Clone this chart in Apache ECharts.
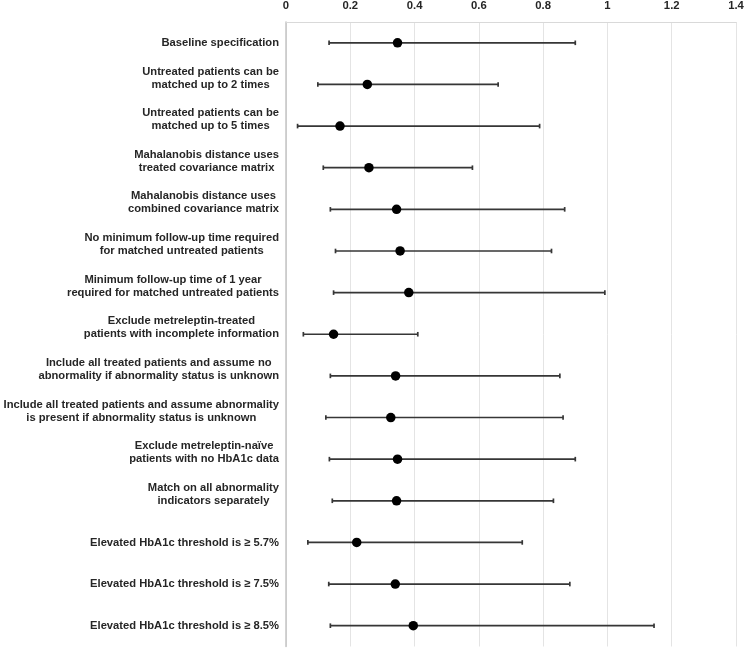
<!DOCTYPE html>
<html>
<head>
<meta charset="utf-8">
<script src="https://cdn.jsdelivr.net/npm/echarts@6/dist/echarts.min.js"></script>
<style>html,body{margin:0;padding:0;background:#fff;}#c{width:747px;height:649px;}</style>
</head>
<body>
<div id="c"></div>
<script>
const categories = [
  "Baseline specification",
  "Untreated patients can be\nmatched up to 2 times",
  "Untreated patients can be\nmatched up to 5 times",
  "Mahalanobis distance uses\ntreated covariance matrix",
  "Mahalanobis distance uses\ncombined covariance matrix",
  "No minimum follow-up time required\nfor matched untreated patients",
  "Minimum follow-up time of 1 year\nrequired for matched untreated patients",
  "Exclude metreleptin-treated\npatients with incomplete information",
  "Include all treated patients and assume no\nabnormality if abnormality status is unknown",
  "Include all treated patients and assume abnormality\nis present if abnormality status is unknown",
  "Exclude metreleptin-naïve\npatients with no HbA1c data",
  "Match on all abnormality\nindicators separately",
  "Elevated HbA1c threshold is ≥ 5.7%",
  "Elevated HbA1c threshold is ≥ 7.5%",
  "Elevated HbA1c threshold is ≥ 8.5%"
];
const estimates = [0.347, 0.253, 0.168, 0.258, 0.344, 0.355, 0.382, 0.148, 0.341, 0.326, 0.347, 0.344, 0.220, 0.340, 0.396];
const lower     = [0.134, 0.099, 0.036, 0.116, 0.138, 0.154, 0.148, 0.054, 0.138, 0.124, 0.135, 0.144, 0.068, 0.133, 0.138];
const upper     = [0.900, 0.660, 0.789, 0.580, 0.867, 0.826, 0.992, 0.410, 0.852, 0.862, 0.900, 0.832, 0.735, 0.883, 1.145];
const xTicks = [0, 0.2, 0.4, 0.6, 0.8, 1, 1.2, 1.4];

const font = "'Liberation Sans', Arial, sans-serif";
const chart = echarts.init(document.getElementById('c'), null, {renderer: 'canvas'});

const ciData = categories.map((c, i) => [i, lower[i], upper[i]]);
const ptData = categories.map((c, i) => [estimates[i], i]);

const labelStyle = {
  color: '#262626',
  fontFamily: font,
  fontWeight: 'bold',
  fontSize: 11.2,
  lineHeight: 13
};

chart.setOption({
  animation: false,
  backgroundColor: '#ffffff',
  grid: {left: 286, right: 11, top: 22, bottom: 2.5, containLabel: false},
  xAxis: {
    type: 'value',
    position: 'top',
    min: xTicks[0],
    max: xTicks[xTicks.length - 1],
    interval: 0.2,
    axisLine: {show: true, lineStyle: {color: '#d9d9d9', width: 1}},
    axisTick: {show: false},
    splitLine: {show: true, lineStyle: {color: '#e4e4e4', width: 1}},
    axisLabel: {
      margin: 11,
      color: '#262626',
      fontFamily: font,
      fontWeight: 'bold',
      fontSize: 11.3,
      formatter: v => String(Math.round(v * 10) / 10)
    }
  },
  yAxis: {
    type: 'category',
    inverse: true,
    data: categories,
    axisLine: {show: true, lineStyle: {color: '#c4c4c4', width: 1.5}},
    axisTick: {show: false},
    splitLine: {show: false},
    axisLabel: Object.assign({
      margin: 7,
      align: 'right',
      formatter: v => {
        const lines = v.split('\n');
        if (lines.length === 1) return '{c|' + v + '}';
        return lines.map(l => '{c|' + l + '}').join('\n') + '\n{c| }';
      },
      rich: {c: Object.assign({align: 'center'}, labelStyle)}
    }, labelStyle)
  },
  series: [
    {
      type: 'custom',
      data: ciData,
      encode: {x: [1, 2], y: 0},
      renderItem: function (params, api) {
        const idx = api.value(0);
        const p1 = api.coord([api.value(1), idx]);
        const p2 = api.coord([api.value(2), idx]);
        const h = 2.3;
        const st = {stroke: '#363636', lineWidth: 1.7};
        return {
          type: 'group',
          children: [
            {type: 'line', shape: {x1: p1[0], y1: p1[1], x2: p2[0], y2: p2[1]}, style: st},
            {type: 'line', shape: {x1: p1[0], y1: p1[1] - h, x2: p1[0], y2: p1[1] + h}, style: st},
            {type: 'line', shape: {x1: p2[0], y1: p2[1] - h, x2: p2[0], y2: p2[1] + h}, style: st}
          ]
        };
      },
      z: 2
    },
    {
      type: 'scatter',
      data: ptData,
      symbol: 'circle',
      symbolSize: 9.5,
      itemStyle: {color: '#000000', opacity: 1},
      z: 3
    }
  ]
});
</script>
</body>
</html>
